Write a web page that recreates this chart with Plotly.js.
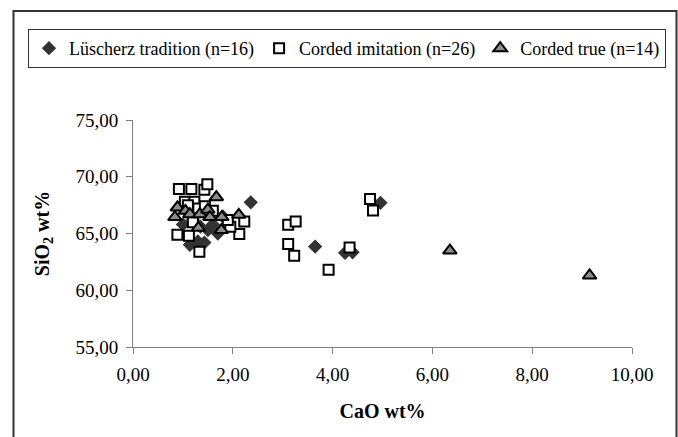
<!DOCTYPE html>
<html>
<head>
<meta charset="utf-8">
<script src="https://cdn.plot.ly/plotly-3.0.1.min.js"></script>
<style>html,body{margin:0;padding:0;background:#fff;}#chart{width:678px;height:437px;}</style>
</head>
<body>
<div id="chart"></div>
<script>
// Lüscherz tradition (n=16)
const luscherzCaO  = [1.00, 1.14, 1.30, 1.43, 1.50, 1.80, 1.20, 1.35, 1.60, 1.10, 1.70, 2.36, 3.65, 4.25, 4.40, 4.96];
const luscherzSiO2 = [65.8, 64.0, 64.3, 64.2, 65.3, 66.5, 66.2, 65.6, 65.8, 66.9, 65.0, 67.75, 63.85, 63.3, 63.35, 67.7];
// Corded imitation (n=26)
const imitCaO  = [0.92, 1.17, 1.43, 1.49, 0.89, 1.12, 1.33, 2.13, 2.23, 1.04, 1.23, 1.31, 1.44, 1.10, 1.60, 1.95, 1.20, 1.90,
                  3.11, 3.26, 3.11, 3.23, 3.92, 4.34, 4.75, 4.81];
const imitSiO2 = [68.93, 68.93, 68.85, 69.35, 64.9, 64.8, 63.4, 64.95, 66.05, 67.8, 67.8, 67.2, 67.4, 67.5, 67.0, 65.6, 66.0, 66.2,
                  65.77, 66.06, 64.07, 63.04, 61.8, 63.77, 68.03, 67.02];
// Corded true (n=14)
const trueCaO  = [0.89, 0.84, 1.05, 1.14, 1.34, 1.50, 1.54, 1.67, 1.78, 2.12, 1.31, 1.77, 6.35, 9.15];
const trueSiO2 = [67.3, 66.45, 67.0, 66.7, 66.7, 67.1, 66.45, 68.2, 66.45, 66.65, 65.5, 65.3, 63.5, 61.3];

const seriesNames = ['Lüscherz tradition (n=16)', 'Corded imitation (n=26)', 'Corded true (n=14)'];
const xTitle = 'CaO wt%';
const yTitle = 'SiO<sub>2</sub> wt%';

const FONT = 'Liberation Serif';

const traces = [
  {x: luscherzCaO, y: luscherzSiO2, name: seriesNames[0], type: 'scatter', mode: 'markers',
   marker: {symbol: 'diamond', size: 11, color: '#333333', line: {width: 0}}},
  {x: imitCaO, y: imitSiO2, name: seriesNames[1], type: 'scatter', mode: 'markers',
   marker: {symbol: 'square', size: 10, color: '#ffffff', line: {width: 2, color: '#000000'}}},
  {x: trueCaO, y: trueSiO2, name: seriesNames[2], type: 'scatter', mode: 'markers',
   marker: {symbol: 'triangle-up', size: 12, color: '#8c8c8c', line: {width: 2, color: '#000000'}}}
];

// pixel geometry: margins give a wide "plot area" (so the legend fits on one row);
// the x axis occupies only 133..632 inside it through its domain.
const L = 133, MR = 10, T = 120, B = 347, AXR = 632;
const GW = 678 - L - MR;
const px = v => (v - L) / GW;
const py = v => (B - v) / (B - T);

const layout = {
  width: 678, height: 437,
  margin: {l: L, r: MR, t: T, b: 437 - B, pad: 0},
  paper_bgcolor: '#ffffff', plot_bgcolor: '#ffffff',
  separators: ', ',
  font: {family: FONT, size: 19, color: '#000000'},
  showlegend: true,
  legend: {
    orientation: 'h', x: px(28), y: py(29), xanchor: 'left', yanchor: 'top',
    bordercolor: '#333333', borderwidth: 1, bgcolor: '#ffffff',
    font: {family: FONT, size: 18, color: '#000000'},
    itemwidth: 30, tracegroupgap: 0
  },
  xaxis: {
    domain: [0, px(AXR)],
    range: [0, 10], dtick: 2, tick0: 0, tickformat: '.2f',
    showgrid: false, zeroline: false, showline: true, linecolor: '#808080', linewidth: 1,
    ticks: 'outside', ticklen: 6, tickcolor: '#808080', tickwidth: 1, ticklabelstandoff: 4,
    tickfont: {family: FONT, size: 19, color: '#000000'},
    title: {text: xTitle, font: {family: FONT, size: 20, color: '#000000', weight: 'bold'}, standoff: 20}
  },
  yaxis: {
    range: [55, 75], dtick: 5, tick0: 55, tickformat: '.2f',
    showgrid: false, zeroline: false, showline: true, linecolor: '#808080', linewidth: 1,
    ticks: 'outside', ticklen: 6, tickcolor: '#808080', tickwidth: 1, ticklabelstandoff: 4,
    tickfont: {family: FONT, size: 19, color: '#000000'},
    title: {text: yTitle, font: {family: FONT, size: 20, color: '#000000', weight: 'bold'}, standoff: 20}
  },
  shapes: [
    {type: 'rect', xref: 'paper', yref: 'paper', x0: px(13.5), x1: px(676.5), y0: py(445), y1: py(11),
     line: {color: '#333333', width: 2}, fillcolor: 'rgba(0,0,0,0)', layer: 'below'}
  ]
};

Plotly.newPlot('chart', traces, layout, {displayModeBar: false, staticPlot: true});
</script>
</body>
</html>
